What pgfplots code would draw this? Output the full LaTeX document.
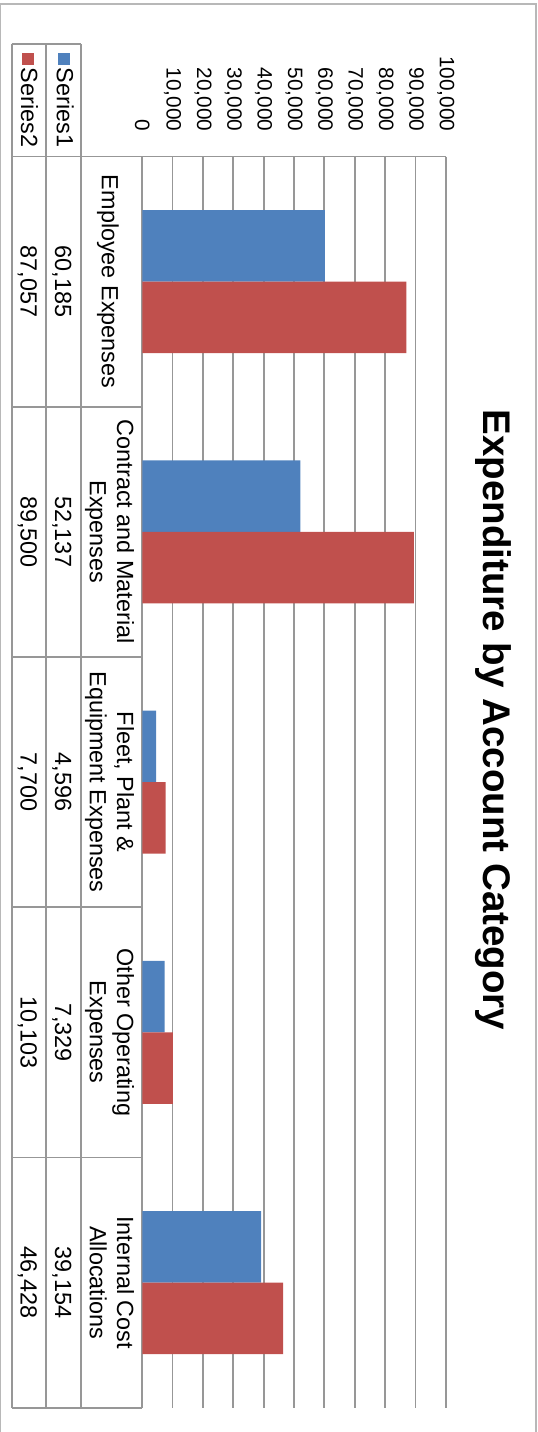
\documentclass[border=0pt]{standalone}
\usepackage{pgfplots}
\pgfplotsset{compat=1.18}
\usepackage{fontspec}
\setmainfont{Liberation Sans}
\definecolor{s1}{HTML}{4F81BD}
\definecolor{s2}{HTML}{C0504D}
\definecolor{gridc}{HTML}{979797}
\definecolor{borderc}{HTML}{B8B8B8}
\newcommand{\tfont}{\fontsize{11.7}{14}\selectfont}
\begin{document}
\begin{tikzpicture}
\begin{axis}[
  at={(71.15pt,-78.25pt)}, anchor=north west,
  scale only axis, width=151.7pt, height=625.6pt,
  xmin=0, xmax=100000, ymin=-0.5, ymax=4.5, y dir=reverse,
  xtick={0,10000,...,100000}, ytick=\empty,
  xticklabel pos=upper,
  scaled x ticks=false,
  xmajorgrids, grid style={draw=gridc, line width=0.85pt},
  axis line style={draw=none},
  major tick length=0pt,
  xticklabel style={rotate=-90, anchor=east, inner sep=0pt,
    font=\fontsize{10.4}{12}\selectfont,
    /pgf/number format/fixed,
    /pgf/number format/1000 sep={,},
    /pgf/number format/assume math mode=true},
  xticklabel shift=12.4pt,
  xbar, bar width=0.2858,
  clip=false,
]
\addplot[fill=s1, draw=none, bar shift=-0.1429] coordinates {(60185,0) (52137,1) (4596,2) (7329,3) (39154,4)};
\addplot[fill=s2, draw=none, bar shift=0.1429] coordinates {(87057,0) (89500,1) (7700,2) (10103,3) (46428,4)};
\end{axis}
\begin{scope}[x=0.5pt,y=-0.5pt]
  % outer chart border
  \draw[borderc, line width=0.6pt] (0.8,1440) -- (0.8,4) -- (536,4) -- (536,1440);
  % data table lines
  \begin{scope}[draw=gridc, line width=0.85pt]
    \draw (11.7,44.3) -- (80.7,44.3);
    \draw (11.7,156.5) -- (445.7,156.5);
    \draw (11.7,44.3) -- (11.7,1407.7);
    \draw (45.7,44.3) -- (45.7,1407.7);
    \draw (80.7,44.3) -- (80.7,1407.7);
    \foreach \yy in {406.7,657.0,907.2,1157.5,1407.7} {
      \draw (11.7,\yy) -- (142.3,\yy);
    }
  \end{scope}
  % legend keys
  \node[rotate=-90, anchor=base, inner sep=0pt, font=\tfont] at (56.8,100)
    {\textcolor{s1}{\raisebox{0.6pt}{\rule{5.9pt}{5.9pt}}}\hspace{1.6pt}Series1};
  \node[rotate=-90, anchor=base, inner sep=0pt, font=\tfont] at (21.2,100)
    {\textcolor{s2}{\raisebox{0.6pt}{\rule{5.9pt}{5.9pt}}}\hspace{1.6pt}Series2};
  % category names
  \begin{scope}[every node/.style={rotate=-90, anchor=base, inner sep=0pt, font=\tfont}]
    \node at (101.8,281.6) {Employee Expenses};
    \node at (117,531.8) {Contract and Material};
    \node at (90,531.8) {Expenses};
    \node at (117,782.1) {Fleet, Plant \&};
    \node at (90,782.1) {Equipment Expenses};
    \node at (117,1032.3) {Other Operating};
    \node at (90,1032.3) {Expenses};
    \node at (117,1282.6) {Internal Cost};
    \node at (90,1282.6) {Allocations};
    % Series1 values
    \node at (55,281.6) {60,185};
    \node at (55,531.8) {52,137};
    \node at (55,782.1) {4,596};
    \node at (55,1032.3) {7,329};
    \node at (55,1282.6) {39,154};
    % Series2 values
    \node at (20.5,281.6) {87,057};
    \node at (20.5,531.8) {89,500};
    \node at (20.5,782.1) {7,700};
    \node at (20.5,1032.3) {10,103};
    \node at (20.5,1282.6) {46,428};
  \end{scope}
  % title
  \node[rotate=-90, anchor=base, inner sep=0pt, font=\fontsize{19.25}{23}\selectfont\bfseries] at (483.3,720) {Expenditure by Account Category};
\end{scope}
\pgfresetboundingbox
\useasboundingbox (0pt,0pt) rectangle (268.5pt,-716pt);
\end{tikzpicture}
\end{document}
